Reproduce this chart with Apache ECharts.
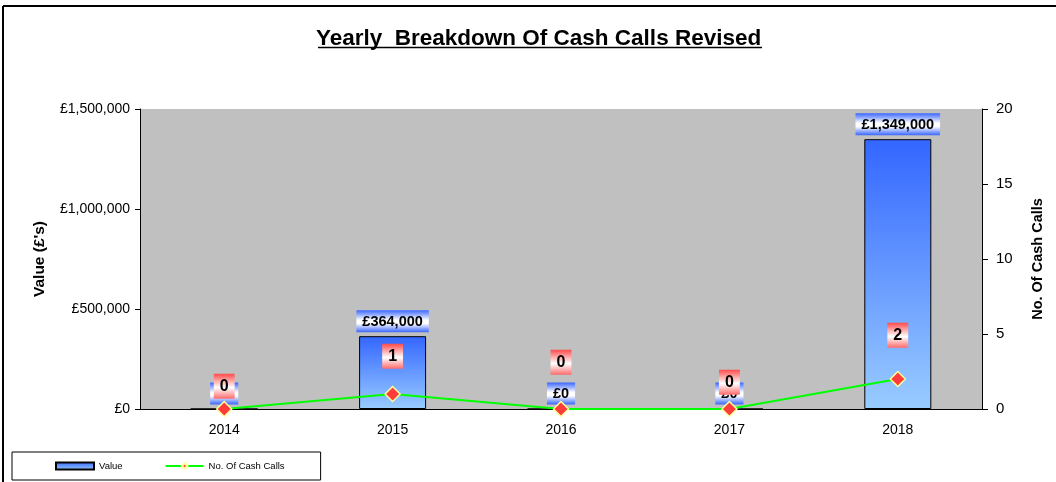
<!DOCTYPE html>
<html>
<head>
<meta charset="utf-8">
<script src="https://cdn.jsdelivr.net/npm/echarts@6/dist/echarts.min.js"></script>
<style>
  html, body { margin: 0; padding: 0; background: #fff; }
  #chart { width: 1056px; height: 482px; }
</style>
</head>
<body>
<div id="chart"></div>
<script>
// data
const years = ["2014", "2015", "2016", "2017", "2018"];
const values = [0, 364000, 0, 0, 1349000];
const cashCalls = [0, 1, 0, 0, 2];
const valueTicks = [0, 500000, 1000000, 1500000];
const countTicks = [0, 5, 10, 15, 20];

const chart = echarts.init(document.getElementById("chart"));

function pound(v) {
  return "£" + Math.round(v).toString().replace(/\B(?=(\d{3})+(?!\d))/g, ",");
}

// how far the count boxes sit above their points (excel placed them oddly)
const countGap = [2, 17, 26, 6, 23];

const blueBox = new echarts.graphic.LinearGradient(0, 0, 0, 1, [
  { offset: 0, color: "#3a66ff" },
  { offset: 0.45, color: "#ffffff" },
  { offset: 0.6, color: "#ffffff" },
  { offset: 1, color: "#3a66ff" },
]);
const redBox = new echarts.graphic.LinearGradient(0, 0, 0, 1, [
  { offset: 0, color: "#ff4a4a" },
  { offset: 0.55, color: "#ffffff" },
  { offset: 1, color: "#ff6a6a" },
]);

chart.setOption({
  animation: false,
  textStyle: { fontFamily: "Liberation Sans, Arial, sans-serif" },
  title: {
    text: "Yearly  Breakdown Of Cash Calls Revised",
    left: 316,
    top: 27,
    padding: 0,
    textStyle: { fontSize: 22.5, fontWeight: "bold", color: "#000" },
  },
  graphic: [
    { type: "line", shape: { x1: 3, y1: 6, x2: 1056, y2: 6 }, style: { stroke: "#000", lineWidth: 2 } },
    { type: "line", shape: { x1: 3, y1: 6, x2: 3, y2: 482 }, style: { stroke: "#000", lineWidth: 2 } },
    { type: "line", shape: { x1: 318, y1: 47.5, x2: 762, y2: 47.5 }, style: { stroke: "#000", lineWidth: 1.5 } },
  ],
  legend: {
    left: 12,
    top: 452,
    padding: [9, 36, 9, 43],
    itemGap: 42,
    itemWidth: 38,
    itemHeight: 7,
    borderColor: "#000",
    borderWidth: 1,
    textStyle: { fontSize: 9.5, color: "#000" },
    data: [
      { name: "Value", icon: "rect" },
      { name: "No. Of Cash Calls" },
    ],
  },
  grid: {
    left: 140,
    right: 74,
    top: 109,
    bottom: 73,
    show: true,
    backgroundColor: "#c0c0c0",
    borderWidth: 0,
  },
  xAxis: {
    type: "category",
    data: years,
    axisLine: { lineStyle: { color: "#000", width: 1 } },
    axisTick: { show: false },
    axisLabel: { color: "#000", fontSize: 14, margin: 14 },
  },
  yAxis: [
    {
      type: "value",
      min: valueTicks[0],
      max: valueTicks[valueTicks.length - 1],
      interval: valueTicks[1] - valueTicks[0],
      name: "Value (£'s)",
      nameLocation: "middle",
      nameGap: 92,
      nameRotate: 90,
      nameTextStyle: { fontSize: 15.5, fontWeight: "bold", color: "#000" },
      axisLine: { show: true, lineStyle: { color: "#000" } },
      axisTick: { show: true, length: 5, lineStyle: { color: "#000" } },
      axisLabel: { color: "#000", fontSize: 14, margin: 10, formatter: pound },
      splitLine: { show: false },
    },
    {
      type: "value",
      position: "right",
      min: countTicks[0],
      max: countTicks[countTicks.length - 1],
      interval: countTicks[1] - countTicks[0],
      name: "No. Of Cash Calls",
      nameLocation: "middle",
      nameGap: 48,
      nameRotate: 90,
      nameTextStyle: { fontSize: 14.5, fontWeight: "bold", color: "#000" },
      axisLine: { show: true, lineStyle: { color: "#000" } },
      axisTick: { show: true, length: 6, lineStyle: { color: "#000" } },
      axisLabel: { color: "#000", fontSize: 15, margin: 14 },
      splitLine: { show: false },
    },
  ],
  series: [
    {
      name: "Value",
      type: "bar",
      yAxisIndex: 0,
      barWidth: 67,
      data: values,
      itemStyle: {
        color: new echarts.graphic.LinearGradient(0, 0, 0, 1, [
          { offset: 0, color: "#3366ff" },
          { offset: 1, color: "#99ccff" },
        ]),
        borderColor: "#000",
        borderWidth: 1,
      },
      label: {
        show: true,
        position: "top",
        distance: 4,
        formatter: (p) => pound(p.value),
        fontSize: 14.5,
        fontWeight: "bold",
        color: "#000",
        backgroundColor: blueBox,
        padding: [4, 6, 3, 6],
      },
      z: 2,
    },
    {
      name: "No. Of Cash Calls",
      type: "line",
      yAxisIndex: 1,
      data: cashCalls.map((v, i) => ({
        value: v,
        label: { distance: countGap[i] },
      })),
      lineStyle: { color: "#00ff00", width: 2 },
      symbol: "diamond",
      symbolSize: 15,
      itemStyle: { color: "#ff3c3c", borderColor: "#ffff99", borderWidth: 1.5 },
      label: {
        show: true,
        position: "top",
        fontSize: 16,
        fontWeight: "bold",
        color: "#000",
        backgroundColor: redBox,
        padding: [5, 6, 4, 6],
      },
      z: 3,
    },
  ],
});
</script>
</body>
</html>
